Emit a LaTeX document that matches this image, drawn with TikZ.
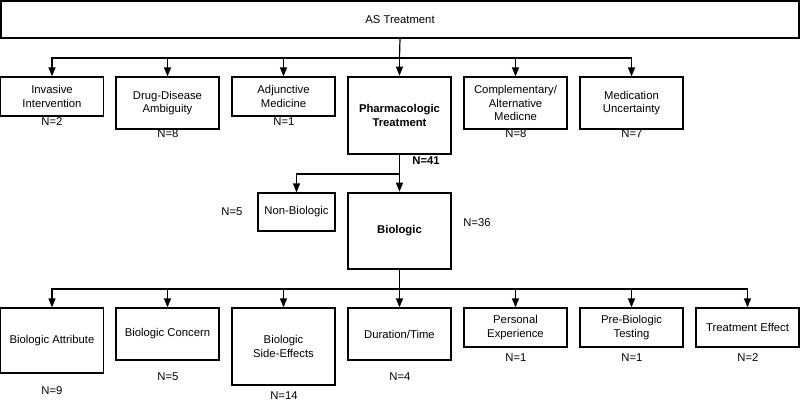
\documentclass[tikz,border=0pt]{standalone}
\usepackage{fontspec}
\setmainfont{Liberation Sans}
\usetikzlibrary{arrows.meta}
\begin{document}
\begin{tikzpicture}[x=1pt,y=-1pt,
  font=\fontsize{11.3}{13.5}\selectfont,
  box/.style={draw=black,line width=1.2pt,rectangle,align=center,inner sep=1pt,minimum width=103pt},
  bigbox/.style={box,line width=2.6pt,font=\fontsize{11.3}{13.5}\selectfont\bfseries},
  lab/.style={inner sep=0pt,align=center},
  conn/.style={line width=1.2pt,draw=black},
  arr/.style={conn,-{Triangle[length=9pt,width=7pt]}}]
\useasboundingbox (0,0) rectangle (800,401);
% top
\node[box,minimum width=798pt,minimum height=37pt] (top) at (400,19.5) {AS Treatment};
% row 1
\node[box,minimum height=39pt] (inv) at (52,96.5) {Invasive\\Intervention};
\node[box,minimum height=52pt] (drug) at (167.5,103) {Drug-Disease\\Ambiguity};
\node[box,minimum height=39pt] (adj) at (283.5,96.5) {Adjunctive\\Medicine};
\node[bigbox,minimum height=77pt] (pharm) at (399.5,115.5) {Pharmacologic\\Treatment};
\node[box,minimum height=52pt] (comp) at (515.5,103) {Complementary/\\Alternative\\Medicne};
\node[box,minimum height=52pt] (med) at (631.5,103) {Medication\\Uncertainty};
\node[lab] (n1) at (52,122) {N=2};
\node[lab] (n2) at (168,134) {N=8};
\node[lab] (n3) at (284,122) {N=1};
\node[lab,font=\fontsize{11.3}{13.5}\selectfont\bfseries] (n4) at (426,160.5) {N=41};
\node[lab] (n5) at (516,134) {N=8};
\node[lab] (n6) at (632,134) {N=7};
% row 2
\node[box,minimum width=77pt,minimum height=38pt] (nonbio) at (296.5,212) {Non-Biologic};
\node[bigbox,minimum height=76pt] (bio) at (399.5,231) {Biologic};
\node[lab] (n7) at (232,212) {N=5};
\node[lab] (n8) at (477,223) {N=36};
% row 3
\node[box,minimum height=65pt] (att) at (52,340.5) {Biologic Attribute};
\node[box,minimum height=52pt] (con) at (167.5,334) {Biologic Concern};
\node[box,minimum height=77pt] (side) at (283.5,346.5) {Biologic\\Side-Effects};
\node[box,minimum height=52pt] (dur) at (399.5,334) {Duration/Time};
\node[box,minimum height=39pt] (pers) at (515.5,327.5) {Personal\\Experience};
\node[box,minimum height=39pt] (pre) at (631.5,327.5) {Pre-Biologic\\Testing};
\node[box,minimum height=39pt] (eff) at (747.5,327.5) {Treatment Effect};
\node[lab] (m1) at (52,391) {N=9};
\node[lab] (m2) at (168,377) {N=5};
\node[lab] (m3) at (284,395.5) {N=14};
\node[lab] (m4) at (400,377) {N=4};
\node[lab] (m5) at (516,358) {N=1};
\node[lab] (m6) at (632,358) {N=1};
\node[lab] (m7) at (748,358) {N=2};
% connectors
\coordinate (j1) at (399.5,58);
\coordinate (j2) at (399.5,174);
\coordinate (j3) at (399.5,289);
\draw[conn] (top.south) -- (j1);
\foreach \t in {inv,drug,adj,comp,med} \draw[arr] (j1) -| (\t.north);
\draw[arr] (j1) -- (pharm.north);
\draw[arr] (pharm.south) -- (bio.north);
\draw[arr] (j2) -| (nonbio.north);
\draw[conn] (bio.south) -- (j3);
\foreach \t in {att,con,side,pers,pre,eff} \draw[arr] (j3) -| (\t.north);
\draw[arr] (j3) -- (dur.north);
\end{tikzpicture}
\end{document}
